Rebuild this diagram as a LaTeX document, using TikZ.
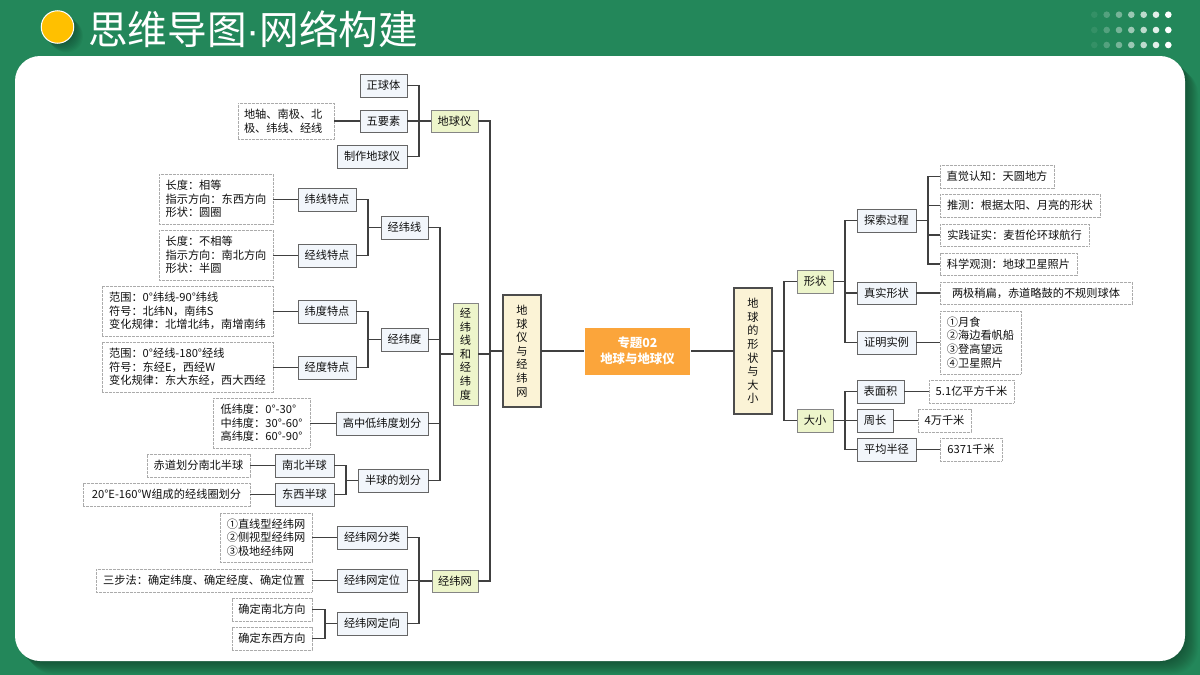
\documentclass[tikz,border=0pt]{standalone}
\usepackage{fontspec}
\setmainfont{Noto Sans CJK SC}
\newfontfamily\dotfont{Liberation Sans}
\usetikzlibrary{calc}
\definecolor{bggreen}{HTML}{23875A}
\definecolor{linecol}{HTML}{404040}
\definecolor{txtcol}{HTML}{101010}
\definecolor{subfill}{HTML}{F2F6FB}
\definecolor{limefill}{HTML}{EDF5CB}
\definecolor{creamfill}{HTML}{FBF3D6}
\definecolor{orangefill}{HTML}{FBA53B}
\definecolor{sunfill}{HTML}{FFC000}
\tikzset{
  boxbase/.style={inner sep=0pt,outer sep=0pt,align=left,text=txtcol,font=\fontsize{11.2}{13.6}\selectfont},
  subbox/.style={boxbase,draw=black!60,line width=1pt,fill=subfill},
  leafbox/.style={boxbase,draw=black!33,line width=0.9pt,dash pattern=on 1pt off 0.35pt,fill=white},
  limebox/.style={boxbase,draw=black!48,line width=1pt,fill=limefill},
  creambox/.style={boxbase,draw=black!70,line width=1.3pt,fill=creamfill,align=center},
  centerbox/.style={inner sep=0pt,outer sep=1pt,fill=orangefill,text=white,align=center,font=\fontsize{12.4}{16}\selectfont\bfseries},
  conn/.style={draw=linecol,line width=1.1pt,line join=miter}
}
\newcommand{\bx}[7][]{\node[#2,#1,minimum width={(#5-#3)*1pt},minimum height={(#6-#4)*1pt}] (#7) at ({(#3+#5)/2},{(#4+#6)/2})}
\newcommand{\LC}[3]{\draw[conn] (#1.west) -- ++(-#3,0) |- (#2.east);}
\newcommand{\RC}[3]{\draw[conn] (#1.east) -- ++(#3,0) |- (#2.west);}
\newcommand{\HL}[2]{\draw[conn] (#1.west) -- (#1.west -| #2.east);}
\newcommand{\HR}[2]{\draw[conn] (#1.east) -- (#1.east -| #2.west);}
\begin{document}
\begin{tikzpicture}[x=1pt,y=-1pt]
\useasboundingbox (0,0) rectangle (1200,675);
\fill[bggreen] (0,0) rectangle (1200,675);
% card shadow
\foreach \d in {1,...,13}{
  \fill[black,opacity=.028,rounded corners=25pt] (15+\d,56+\d) rectangle (1185+\d,661+\d);}
\fill[white,rounded corners=25pt] (15,56) rectangle (1185,661);
% title
\foreach \d in {1,...,9}{
  \fill[black,opacity=.035] (57.5+\d,27+\d) circle (16.5);}
\node[circle,fill=sunfill,draw=white,line width=1pt,minimum size=32.5pt,inner sep=0pt] (dot) at (57.5,27) {};
\node[inner sep=0pt,anchor=west,text=white,font=\fontsize{39.6}{44}\selectfont] (title) at (88,29) {思维导图{\dotfont ·}网络构建};
% decorative dots
\foreach \c/\x/\o in {1/1094.3/.08,2/1106.7/.22,3/1119/.38,4/1131.3/.55,5/1143.7/.7,6/1156/.87,7/1168.3/1}{
  \foreach \y in {14.7,30,45}{
    \fill[white,opacity=\o] (\x,\y) circle (3.3);}}

% boxes: left, globe
\bx{subbox}{360}{74}{407}{97}{a1}{正球体};
\bx{subbox}{360}{110}{407}{132}{a2}{五要素};
\bx[text width=84pt]{leafbox}{238}{103}{334}{139}{a2l}{地轴、南极、北\\极、纬线、经线};
\bx{subbox}{337}{145}{407}{168}{a3}{制作地球仪};
\bx{limebox}{431}{110}{478}{132}{A}{地球仪};
% graticule
\bx{leafbox}{159}{174}{273}{224}{b1l}{长度：相等\\指示方向：东西方向\\形状：圆圈};
\bx{subbox}{298}{188}{356}{211}{b1}{纬线特点};
\bx{leafbox}{159}{230}{273}{280}{b2l}{长度：不相等\\指示方向：南北方向\\形状：半圆};
\bx{subbox}{298}{244}{356}{267}{b2}{经线特点};
\bx{subbox}{381}{216}{428}{239}{B1}{经纬线};
\bx{leafbox}{102}{286}{273}{336}{c1l}{范围：0°纬线-90°纬线\\符号：北纬N，南纬S\\变化规律：北增北纬，南增南纬};
\bx{subbox}{298}{300}{356}{323}{c1}{纬度特点};
\bx{leafbox}{102}{342}{273}{392}{c2l}{范围：0°经线-180°经线\\符号：东经E，西经W\\变化规律：东大东经，西大西经};
\bx{subbox}{298}{356}{356}{379}{c2}{经度特点};
\bx{subbox}{381}{328}{428}{351}{B2}{经纬度};
\bx{leafbox}{213}{398}{310}{448}{dl}{低纬度：0°-30°\\中纬度：30°-60°\\高纬度：60°-90°};
\bx{subbox}{336}{412}{428}{435}{B3}{高中低纬度划分};
\bx{leafbox}{147}{454}{250}{477}{e1l}{赤道划分南北半球};
\bx{subbox}{275}{454}{334}{477}{e1}{南北半球};
\bx{leafbox}{83}{483}{250}{506}{e2l}{20°E-160°W组成的经线圈划分};
\bx{subbox}{275}{483}{334}{506}{e2}{东西半球};
\bx{subbox}{358}{469}{428}{492}{B4}{半球的划分};
\bx[align=center]{limebox}{453}{303}{478}{405}{B}{经\\纬\\线\\和\\经\\纬\\度};
% net
\bx{leafbox}{220}{513}{312}{562}{f1l}{①直线型经纬网\\②侧视型经纬网\\③极地经纬网};
\bx{subbox}{337}{526}{407}{549}{f1}{经纬网分类};
\bx{leafbox}{96}{569}{312}{592}{f2l}{三步法：确定纬度、确定经度、确定位置};
\bx{subbox}{337}{569}{407}{592}{f2}{经纬网定位};
\bx{leafbox}{232}{598}{312}{621}{f3a}{确定南北方向};
\bx{leafbox}{232}{627}{312}{650}{f3b}{确定东西方向};
\bx{subbox}{337}{612}{407}{635}{f3}{经纬网定向};
\bx{limebox}{432}{570}{478}{592}{C}{经纬网};
% main
\bx{creambox}{503}{295}{541}{407}{L}{地\\球\\仪\\与\\经\\纬\\网};
\node[centerbox,minimum width=105pt,minimum height=47pt] (M) at (637.5,351) {专题02\\地球与地球仪};
\bx{creambox}{734}{288}{772}{414}{R}{地\\球\\的\\形\\状\\与\\大\\小};
% right
\bx{limebox}{797}{270}{833}{293}{S}{形状};
\bx{limebox}{797}{409}{833}{432}{T}{大小};
\bx{subbox}{857}{209}{916}{232}{s1}{探索过程};
\bx{subbox}{857}{282}{916}{304}{s2}{真实形状};
\bx{subbox}{857}{331}{916}{354}{s3}{证明实例};
\bx{leafbox}{940}{165}{1054}{188}{p1}{直觉认知：天圆地方};
\bx{leafbox}{940}{194}{1100}{217}{p2}{推测：根据太阳、月亮的形状};
\bx{leafbox}{940}{224}{1089}{246}{p3}{实践证实：麦哲伦环球航行};
\bx{leafbox}{940}{253}{1077}{275}{p4}{科学观测：地球卫星照片};
\bx{leafbox}{940}{282}{1132}{304}{s2r}{两极稍扁，赤道略鼓的不规则球体};
\bx{leafbox}{940}{311}{1021}{374}{s3r}{①月食\\②海边看帆船\\③登高望远\\④卫星照片};
\bx{subbox}{857}{380}{904}{403}{t1}{表面积};
\bx{subbox}{857}{409}{893}{432}{t2}{周长};
\bx{subbox}{857}{438}{916}{461}{t3}{平均半径};
\bx{leafbox}{929}{380}{1014}{403}{t1r}{5.1亿平方千米};
\bx{leafbox}{918}{409}{971}{432}{t2r}{4万千米};
\bx{leafbox}{940}{438}{1002}{461}{t3r}{6371千米};

% connectors
\LC{A}{a1}{12}\LC{A}{a2}{12}\LC{A}{a3}{12}
\HL{a2}{a2l}
\HL{b1}{b1l}\HL{b2}{b2l}\HL{c1}{c1l}\HL{c2}{c2l}
\HL{B3}{dl}\HL{e1}{e1l}\HL{e2}{e2l}
\LC{B1}{b1}{13}\LC{B1}{b2}{13}
\LC{B2}{c1}{13}\LC{B2}{c2}{13}
\LC{B4}{e1}{12}\LC{B4}{e2}{12}
\LC{B}{B1}{13}\LC{B}{B2}{13}\LC{B}{B3}{13}\LC{B}{B4}{13}
\HL{f1}{f1l}\HL{f2}{f2l}
\LC{f3}{f3a}{12}\LC{f3}{f3b}{12}
\LC{C}{f1}{13}\LC{C}{f2}{13}\LC{C}{f3}{13}
\LC{L}{A}{13}\LC{L}{B}{13}\LC{L}{C}{13}
\draw[conn] (M.west) -- (L.east);
\draw[conn] (M.east) -- (R.west);
\RC{R}{S}{12}\RC{R}{T}{12}
\RC{S}{s1}{12}\RC{S}{s2}{12}\RC{S}{s3}{12}
\RC{T}{t1}{12}\RC{T}{t2}{12}\RC{T}{t3}{12}
\RC{s1}{p1}{12}\RC{s1}{p2}{12}\RC{s1}{p3}{12}\RC{s1}{p4}{12}
\HR{s2}{s2r}\HR{s3}{s3r}
\HR{t1}{t1r}\HR{t2}{t2r}\HR{t3}{t3r}
\end{tikzpicture}
\end{document}
